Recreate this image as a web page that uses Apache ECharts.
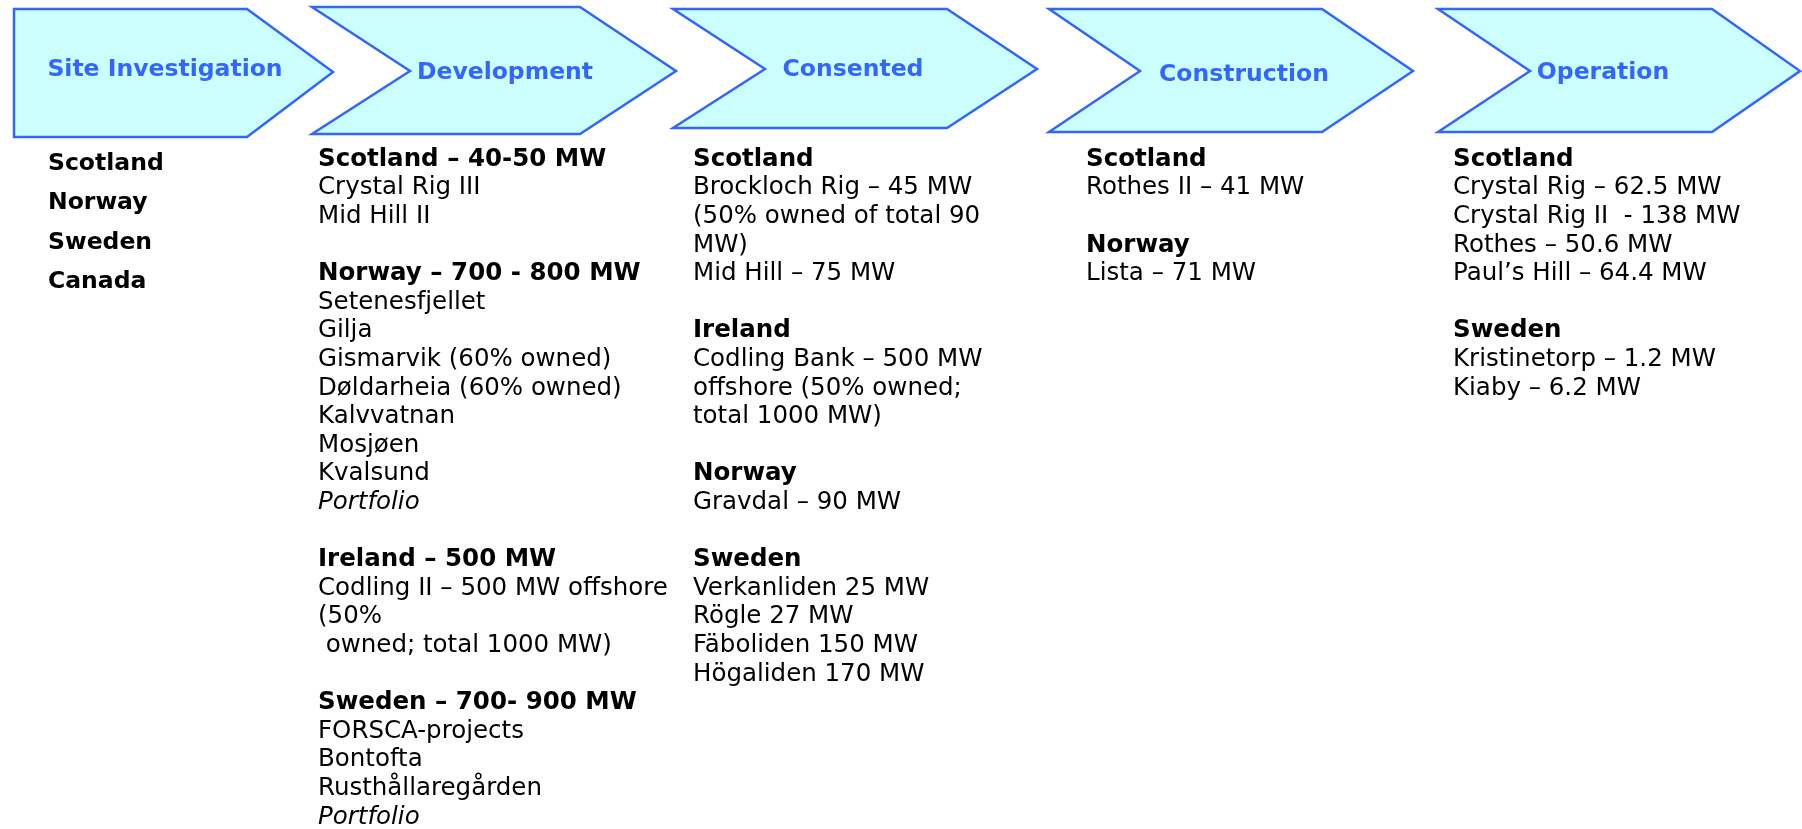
<!DOCTYPE html>
<html>
<head>
<meta charset="utf-8">
<script src="https://cdn.jsdelivr.net/npm/echarts@6/dist/echarts.min.js"></script>
<style>
  html, body { margin: 0; padding: 0; background: #fff; }
  #chart { width: 1802px; height: 829px; }
</style>
</head>
<body>
<div id="chart"></div>
<script>
  // stage names, one per arrow
  var stages = ["Site Investigation", "Development", "Consented", "Construction", "Operation"];
  // "#" = bold heading, "~" = italic, "" = empty line
  var siteLines = ["#Scotland", "#Norway", "#Sweden", "#Canada"];
  var devLines = [
    "#Scotland – 40-50 MW", "Crystal Rig III", "Mid Hill II", "",
    "#Norway – 700 - 800 MW", "Setenesfjellet", "Gilja", "Gismarvik (60% owned)",
    "Døldarheia (60% owned)", "Kalvvatnan", "Mosjøen", "Kvalsund", "~Portfolio", "",
    "#Ireland – 500 MW", "Codling II – 500 MW offshore", "(50%", " owned; total 1000 MW)", "",
    "#Sweden – 700- 900 MW", "FORSCA-projects", "Bontofta", "Rusthållaregården", "~Portfolio"
  ];
  var consentedLines = [
    "#Scotland", "Brockloch Rig – 45 MW", "(50% owned of total 90", "MW)", "Mid Hill – 75 MW", "",
    "#Ireland", "Codling Bank – 500 MW", "offshore (50% owned;", "total 1000 MW)", "",
    "#Norway", "Gravdal – 90 MW", "",
    "#Sweden", "Verkanliden 25 MW", "Rögle 27 MW", "Fäboliden 150 MW", "Högaliden 170 MW"
  ];
  var constructionLines = ["#Scotland", "Rothes II – 41 MW", "", "#Norway", "Lista – 71 MW"];
  var operationLines = [
    "#Scotland", "Crystal Rig – 62.5 MW", "Crystal Rig II  - 138 MW", "Rothes – 50.6 MW",
    "Paul’s Hill – 64.4 MW", "", "#Sweden", "Kristinetorp – 1.2 MW", "Kiaby – 6.2 MW"
  ];

  var blue = "#3366ff";
  var font = "'DejaVu Sans', Verdana, sans-serif";

  // arrow outlines (pixel layout)
  var shapes = [
    [[14, 9], [247, 9], [333, 72], [247, 137], [14, 137]],
    [[312, 7], [580, 7], [676, 71], [580, 134], [312, 134], [410, 71]],
    [[673, 9], [947, 9], [1037, 69], [947, 128], [673, 128], [765, 69]],
    [[1049, 9], [1322, 9], [1413, 71], [1322, 132], [1049, 132], [1140, 71]],
    [[1438, 9], [1712, 9], [1800, 71], [1712, 132], [1438, 132], [1530, 71]]
  ];
  var labelPos = [[165, 69.5], [505, 72.5], [853, 69.5], [1244, 74.5], [1603, 72.5]];
  var columns = [
    { lines: siteLines, x: 48, y: 163.5, step: 39.6, size: 23.5 },
    { lines: devLines, x: 318, y: 159.5, step: 28.6, size: 24.5 },
    { lines: consentedLines, x: 693, y: 159.5, step: 28.6, size: 24.5 },
    { lines: constructionLines, x: 1086, y: 159.5, step: 28.6, size: 24.5 },
    { lines: operationLines, x: 1453, y: 159.5, step: 28.6, size: 24.5 }
  ];

  var elements = [];
  stages.forEach(function (name, i) {
    elements.push({
      type: "polygon",
      shape: { points: shapes[i] },
      style: { fill: "#ccffff", stroke: blue, lineWidth: 2.5 }
    });
    elements.push({
      type: "text",
      x: labelPos[i][0],
      y: labelPos[i][1],
      style: {
        text: name, fill: blue, fontFamily: font, fontWeight: "bold", fontSize: 23.5,
        align: "center", verticalAlign: "middle"
      }
    });
  });

  columns.forEach(function (col) {
    col.lines.forEach(function (line, j) {
      if (!line) return;
      var bold = line.charAt(0) === "#";
      var italic = line.charAt(0) === "~";
      elements.push({
        type: "text",
        x: col.x,
        y: col.y + j * col.step,
        style: {
          text: bold || italic ? line.slice(1) : line,
          fill: "#000",
          fontFamily: font,
          fontSize: col.size,
          fontWeight: bold ? "bold" : "normal",
          fontStyle: italic ? "italic" : "normal",
          align: "left",
          verticalAlign: "middle"
        }
      });
    });
  });

  var chart = echarts.init(document.getElementById("chart"));
  chart.setOption({
    backgroundColor: "#fff",
    animation: false,
    graphic: { elements: elements }
  });
</script>
</body>
</html>
